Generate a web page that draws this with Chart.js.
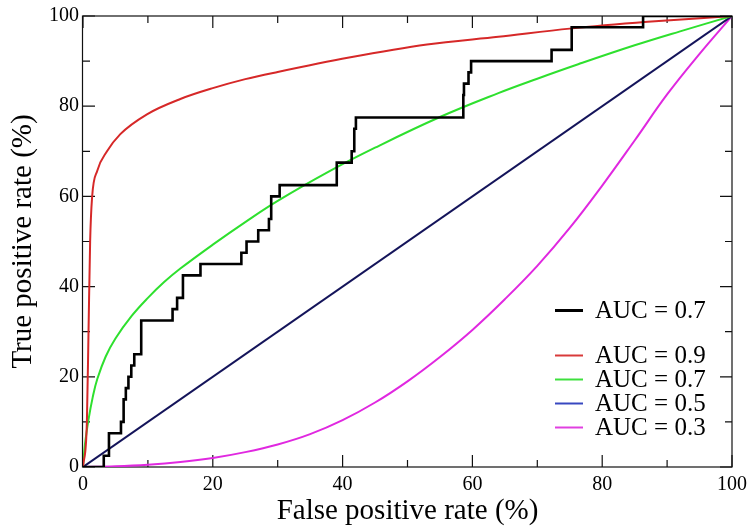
<!DOCTYPE html>
<html><head><meta charset="utf-8">
<script src="https://cdn.jsdelivr.net/npm/chart.js@4/dist/chart.umd.min.js"></script>
<style>html,body{margin:0;padding:0;background:#fff}</style>
</head><body>
<canvas id="c" width="753" height="529"></canvas>
<script>
// ---- data ----
const xTitle = 'False positive rate (%)';
const yTitle = 'True positive rate (%)';
const tickValues = [0, 20, 40, 60, 80, 100];

const labels = ['AUC = 0.7', 'AUC = 0.9', 'AUC = 0.7', 'AUC = 0.5', 'AUC = 0.3'];

// empirical (step) ROC curve: corner points (FPR, TPR)
const fprStep = [0, 3.2, 4.0, 5.85, 6.26, 6.6, 7.0, 7.44, 7.9, 8.97, 13.8, 14.5, 15.4, 18.1, 24.4, 25.2, 27.0, 28.65, 29.0, 30.3, 39.1, 41.4, 41.8, 42.05, 58.6, 58.7, 59.4, 59.8, 72.2, 75.3, 86.3, 100];
const tprStep = [0, 2.5, 7.5, 10, 15, 17.5, 20, 22.5, 25, 32.5, 35, 37.5, 42.5, 45, 47.5, 50, 52.5, 55, 60, 62.5, 67.5, 70, 75, 77.5, 82.5, 85, 87.5, 90, 92.5, 97.5, 100, 100];

// AUC = 0.9 (red)
const fpr09 = [0, 0.6, 0.85, 1.1, 1.4, 2.2, 3.7, 5.75, 9.85, 15, 20, 25, 30, 41, 53, 64, 75, 87, 100];
const tpr09 = [0, 10, 30, 50, 59.8, 65.7, 70, 73.8, 78.2, 81.6, 84, 86, 87.6, 90.8, 93.7, 95.4, 97.2, 98.7, 100];

// AUC = 0.7 (green)
const fpr07 = [0, 0.3, 0.85, 1.5, 2.2, 3.5, 5, 7.5, 10, 12.5, 15, 20, 25, 30, 38, 45, 55, 64, 70, 76.3, 85, 92, 100];
const tpr07 = [0, 5, 10.5, 15.5, 19.5, 24.5, 28.5, 33.5, 37.5, 41, 44, 49.3, 54.3, 59, 65.6, 70.8, 77.6, 82.9, 86.1, 89.3, 93.5, 96.6, 100];

// AUC = 0.5 (diagonal)
const fpr05 = [0, 100];
const tpr05 = [0, 100];

// AUC = 0.3 (magenta)
const fpr03 = [0, 5, 10, 15, 20, 25, 30, 35, 40, 45, 50, 55, 60, 65, 70, 75, 80, 85, 90, 95, 100];
const tpr03 = [0, 0.15, 0.5, 1.1, 2.0, 3.3, 5.0, 7.3, 10.4, 14.3, 19.0, 24.4, 30.4, 37.2, 44.6, 53.0, 62.4, 72.4, 82.6, 91.6, 100];

const colors = ['#000000', '#d62828', '#2ee02e', '#14145a', '#e028e0'];
const legendColors = ['#000000', '#d83a3a', '#3ee03e', '#3848c0', '#e040e0'];

// ---- build ----
const pts = (xs, ys) => xs.map((v, i) => ({x: v, y: ys[i]}));
const serif = 'Liberation Serif, Times New Roman, serif';

const datasets = [
  {label: labels[0], data: pts(fprStep, tprStep), borderColor: colors[0], borderWidth: 2.6, stepped: 'before', legendColor: legendColors[0], legendWidth: 3},
  {label: labels[1], data: pts(fpr09, tpr09), borderColor: colors[1], borderWidth: 2, cubicInterpolationMode: 'monotone', legendColor: legendColors[1], legendWidth: 2},
  {label: labels[2], data: pts(fpr07, tpr07), borderColor: colors[2], borderWidth: 2, tension: 0.4, legendColor: legendColors[2], legendWidth: 2},
  {label: labels[3], data: pts(fpr05, tpr05), borderColor: colors[3], borderWidth: 2, legendColor: legendColors[3], legendWidth: 2},
  {label: labels[4], data: pts(fpr03, tpr03), borderColor: colors[4], borderWidth: 2, tension: 0.4, legendColor: legendColors[4], legendWidth: 2}
].map(d => Object.assign({showLine: true, pointRadius: 0, fill: false}, d));

const frameTicks = {
  id: 'frameTicks',
  beforeDatasetsDraw(chart) {
    const {ctx, chartArea: a, scales: {x, y}} = chart;
    ctx.save();
    ctx.strokeStyle = '#111';
    ctx.lineWidth = 1.2;
    ctx.strokeRect(a.left - 0.5, a.top, a.right - a.left + 0.5, a.bottom - a.top);
    ctx.beginPath();
    for (let v = 0; v <= 100; v += 10) {
      const len = (v % 20 === 0) ? 12 : 7;
      const px = x.getPixelForValue(v);
      ctx.moveTo(px, a.bottom); ctx.lineTo(px, a.bottom - len);
      ctx.moveTo(px, a.top); ctx.lineTo(px, a.top + len);
      const py = y.getPixelForValue(v);
      ctx.moveTo(a.left, py); ctx.lineTo(a.left + len, py);
      ctx.moveTo(a.right, py); ctx.lineTo(a.right - len, py);
    }
    ctx.stroke();
    ctx.restore();
  }
};

const insideLegend = {
  id: 'insideLegend',
  afterDraw(chart) {
    const {ctx, chartArea: a} = chart;
    ctx.save();
    ctx.font = '25px ' + serif;
    ctx.textBaseline = 'middle';
    ctx.textAlign = 'left';
    chart.data.datasets.forEach((ds, i) => {
      const yy = i === 0 ? a.top + 294.5 : a.top + 339.5 + (i - 1) * 24;
      ctx.strokeStyle = ds.legendColor;
      ctx.lineWidth = ds.legendWidth;
      ctx.beginPath();
      ctx.moveTo(a.right - 177, yy);
      ctx.lineTo(a.right - 149, yy);
      ctx.stroke();
      ctx.fillStyle = '#000';
      ctx.fillText(ds.label, a.right - 137, yy + 1);
    });
    ctx.restore();
  }
};

new Chart(document.getElementById('c'), {
  type: 'scatter',
  data: {datasets},
  options: {
    responsive: false,
    animation: false,
    layout: {padding: {top: 15, right: 18, left: 0, bottom: 0}},
    plugins: {legend: {display: false}, tooltip: {enabled: false}},
    scales: {
      x: {
        type: 'linear', min: 0, max: 100, position: 'bottom',
        afterBuildTicks(s) { s.ticks = tickValues.map(v => ({value: v})); },
        ticks: {padding: 6, color: '#000', font: {family: serif, size: 20}, maxRotation: 0, autoSkip: false},
        grid: {display: false, drawTicks: false},
        border: {display: false},
        title: {display: true, text: xTitle, color: '#000', font: {family: serif, size: 29}, padding: {top: 0, bottom: 0}},
        afterFit(s) { s.height = 62; }
      },
      y: {
        type: 'linear', min: 0, max: 100, position: 'left',
        afterBuildTicks(s) { s.ticks = tickValues.map(v => ({value: v})); },
        ticks: {padding: 4, color: '#000', font: {family: serif, size: 20}, autoSkip: false},
        grid: {display: false, drawTicks: false},
        border: {display: false},
        title: {display: true, text: yTitle, color: '#000', font: {family: serif, size: 29}, padding: {top: 6, bottom: 0}},
        afterFit(s) { s.width = 83; }
      }
    }
  },
  plugins: [frameTicks, insideLegend]
});
</script>
</body></html>
